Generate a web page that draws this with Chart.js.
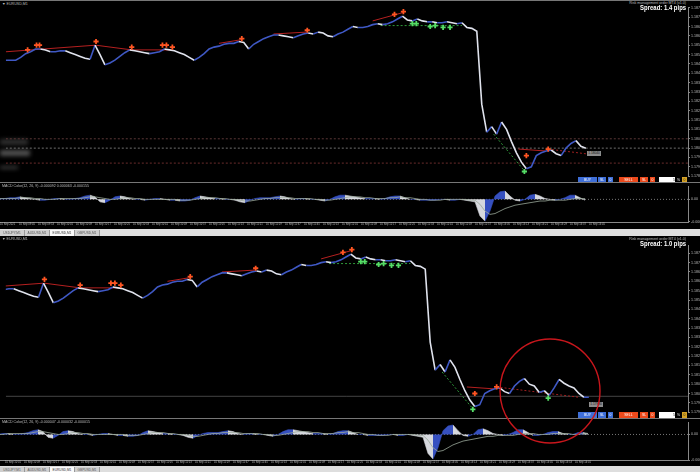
<!DOCTYPE html>
<html>
<head>
<meta charset="utf-8">
<script src="https://cdn.jsdelivr.net/npm/chart.js@4.4.1/dist/chart.umd.min.js"></script>
<style>
html, body { margin: 0; padding: 0; background: #000; width: 700px; height: 472px; overflow: hidden; font-family: "Liberation Sans", "DejaVu Sans", sans-serif; }
canvas, .abs { position: absolute; }
.tiny { color: #bbb; font-size: 3.6px; white-space: nowrap; }
.spread { color: #fff; font-weight: bold; font-size: 7px; white-space: nowrap; transform: scaleX(0.85); transform-origin: right center; }
.sep { left: 0; width: 700px; height: 1px; background: #777; }
.btn { height: 6px; font-size: 3.4px; line-height: 6px; text-align: center; color: #fff; }
.tabs { left: 0; width: 700px; height: 7px; background: #dedede; }
.tab { top: 1px; height: 6px; width: 24px; font-size: 3.2px; line-height: 6px; text-align: center; color: #555; background: #cfcfcf; border-right: 1px solid #999; }
.tab.on { background: #fafafa; color: #333; }
.blur { background: #666; filter: blur(2px); }
.pbox { width: 14px; height: 5px; background: #8c8c8c; color: #111; font-size: 3.2px; line-height: 5px; text-align: center; }
</style>
</head>
<body>
<!-- top snapshot -->
<div class="abs sep" style="top:0"></div>
<div class="abs tiny" style="left:2px;top:2px">▼ EURUSD,M1</div>
<div class="abs tiny" style="right:14px;top:1px">Risk management order MT4 (v1.0)</div>
<div class="abs spread" style="right:14px;top:4px">Spread: 1.4 pips</div>
<div class="abs blur" style="left:0;top:139px;width:28px;height:6px;opacity:.45"></div>
<div class="abs blur" style="left:0;top:150px;width:30px;height:6px;opacity:.8"></div>
<div class="abs blur" style="left:0;top:166px;width:18px;height:3px;opacity:.6"></div>
<canvas id="topPrice" width="700" height="180" style="left:0;top:2px"></canvas>
<div class="abs pbox" style="left:587px;top:151px">1.18040</div>
<div class="abs btn" style="left:578px;top:177px;width:19px;background:#3f6fd8">BUY</div>
<div class="abs btn" style="left:598px;top:177px;width:8px;background:#3f6fd8">SL</div>
<div class="abs btn" style="left:608px;top:177px;width:5px;background:#3f6fd8">0</div>
<div class="abs btn" style="left:619px;top:177px;width:19px;background:#ec4a1c">SELL</div>
<div class="abs btn" style="left:640px;top:177px;width:8px;background:#ec4a1c">SL</div>
<div class="abs btn" style="left:650px;top:177px;width:5px;background:#ec4a1c">0</div>
<div class="abs btn" style="left:659px;top:177px;width:16px;background:#fff;color:#222;text-align:right">5</div>
<div class="abs btn" style="left:676px;top:177px;width:5px">%</div>
<div class="abs btn" style="left:682px;top:177px;width:5px;background:#d6a224;color:#222">0</div>
<div class="abs sep" style="top:182px"></div>
<canvas id="topOsc" width="700" height="45" style="left:0;top:183px"></canvas>
<div class="abs tiny" style="left:2px;top:184px">MACD Color(12, 26, 9) -0.000092 0.000063 -0.000155</div>
<div class="abs tabs" style="top:229px">
  <div class="abs tab" style="left:0">USDJPY,M1</div>
  <div class="abs tab" style="left:25px">AUDUSD,M1</div>
  <div class="abs tab on" style="left:50px">EURUSD,M1</div>
  <div class="abs tab" style="left:75px">GBPUSD,M1</div>
</div>

<!-- bottom snapshot -->
<div class="abs tiny" style="left:2px;top:237px">▼ EURUSD,M1</div>
<div class="abs tiny" style="right:14px;top:237px">Risk management order MT4 (v1.0)</div>
<div class="abs spread" style="right:14px;top:240px">Spread: 1.0 pips</div>
<canvas id="botPrice" width="700" height="178" style="left:0;top:240px"></canvas>
<div class="abs pbox" style="left:589px;top:402px">1.17980</div>
<div class="abs btn" style="left:578px;top:412px;width:19px;background:#3f6fd8">BUY</div>
<div class="abs btn" style="left:598px;top:412px;width:8px;background:#3f6fd8">SL</div>
<div class="abs btn" style="left:608px;top:412px;width:5px;background:#3f6fd8">0</div>
<div class="abs btn" style="left:619px;top:412px;width:19px;background:#ec4a1c">SELL</div>
<div class="abs btn" style="left:640px;top:412px;width:8px;background:#ec4a1c">SL</div>
<div class="abs btn" style="left:650px;top:412px;width:5px;background:#ec4a1c">0</div>
<div class="abs btn" style="left:659px;top:412px;width:16px;background:#fff;color:#222;text-align:right">5</div>
<div class="abs btn" style="left:676px;top:412px;width:5px">%</div>
<div class="abs btn" style="left:682px;top:412px;width:5px;background:#d6a224;color:#222">0</div>
<div class="abs sep" style="top:418px"></div>
<canvas id="botOsc" width="700" height="47" style="left:0;top:419px"></canvas>
<div class="abs tiny" style="left:2px;top:420px">MACD Color(12, 26, 9) -0.000047 -0.000032 -0.000015</div>
<div class="abs tabs" style="top:466px">
  <div class="abs tab" style="left:0">USDJPY,M1</div>
  <div class="abs tab" style="left:25px">AUDUSD,M1</div>
  <div class="abs tab on" style="left:50px">EURUSD,M1</div>
  <div class="abs tab" style="left:75px">GBPUSD,M1</div>
</div>
<svg class="abs" style="left:0;top:0" width="700" height="472">
  <ellipse cx="550" cy="391" rx="50" ry="52" fill="none" stroke="#c8161c" stroke-width="1.4"/>
</svg>

<script>
// closing prices, one value per 5 px of the first snapshot
const closes = [
  1.18510, 1.18510, 1.18510, 1.18525, 1.18545, 1.18555, 1.18570, 1.18570, 1.18565, 1.18555,
  1.18555, 1.18560, 1.18560, 1.18550, 1.18540, 1.18530, 1.18520, 1.18515, 1.18590, 1.18540,
  1.18485, 1.18495, 1.18510, 1.18530, 1.18550, 1.18565, 1.18560, 1.18555, 1.18550, 1.18545,
  1.18550, 1.18555, 1.18570, 1.18565, 1.18560, 1.18550, 1.18540, 1.18525, 1.18510, 1.18525,
  1.18545, 1.18570, 1.18580, 1.18585, 1.18595, 1.18600, 1.18600, 1.18610, 1.18605, 1.18570,
  1.18595, 1.18610, 1.18625, 1.18635, 1.18645, 1.18645, 1.18640, 1.18635, 1.18630, 1.18640,
  1.18650, 1.18655, 1.18650, 1.18660, 1.18655, 1.18640, 1.18635, 1.18650, 1.18660, 1.18675,
  1.18690, 1.18685, 1.18685, 1.18690, 1.18700, 1.18705, 1.18700, 1.18705, 1.18715, 1.18730,
  1.18745, 1.18725, 1.18720, 1.18730, 1.18720, 1.18715, 1.18715, 1.18710, 1.18710, 1.18715,
  1.18710, 1.18705, 1.18710, 1.18685, 1.18680, 1.18665, 1.18275, 1.18125, 1.18155, 1.18115,
  1.18180, 1.18140, 1.18075, 1.18015, 1.17965, 1.17930, 1.17940, 1.18000, 1.18015, 1.18025,
  1.18030, 1.18010, 1.18000, 1.18040, 1.18065, 1.18080, 1.18050, 1.18040, 1.18005, 1.18015,
  1.17990, 1.18030, 1.18075, 1.18055, 1.18040, 1.18030, 1.18000, 1.17980, 1.17980
];
// MACD histogram and signal, in points (1e-5)
const osc = [
  1, 1, 2, 2, 3, 2, 1, 0, -1, -1,
  0, 1, 1, 0, 0, 1, 2, 4, 5, 3,
  -3, -4, -1, 3, 4, 3, 1, 0, 0, -1,
  0, 1, 1, 0, -1, -1, -2, -2, -1, 2,
  4, 3, 2, 1, 1, 0, 0, -1, -3, -4,
  -1, 1, 2, 2, 2, 3, 4, 3, 1, 0,
  1, 1, 0, 0, -1, -2, 0, 3, 5, 5,
  4, 3, 2, 1, 1, 1, 0, 1, 3, 4,
  4, 2, 0, 0, -1, -1, -1, -1, 0, 0,
  -1, -1, 0, -1, -2, -3, -20, -26, -14, 4,
  9, 10, 4, -1, -2, 0, 5, 6, 4, 1,
  0, -1, 0, 2, 5, 5, 2, -1, -1, 0,
  2, 3, 3, 1, 0, 0, 2, 2, 1
];
const signal = [
  1, 1, 1, 1, 2, 2, 2, 1, 1, 0,
  0, 0, 1, 1, 1, 1, 1, 2, 3, 3,
  2, 1, 0, 0, 1, 2, 2, 1, 1, 0,
  0, 0, 0, 0, 0, 0, -1, -1, -1, 0,
  1, 2, 2, 2, 1, 1, 0, 0, -1, -2,
  -2, -1, 0, 1, 1, 2, 2, 2, 2, 1,
  1, 1, 1, 0, 0, -1, -1, 0, 1, 2,
  3, 3, 3, 2, 2, 1, 1, 1, 2, 2,
  3, 2, 2, 1, 0, 0, -1, -1, -1, 0,
  0, 0, 0, 0, -1, -1, -6, -14, -18, -17,
  -14, -11, -9, -7, -6, -5, -4, -3, -2, -2,
  -1, -1, -1, -1, 0, 1, 1, 1, 0, 0,
  0, 1, 1, 1, 1, 0, 0, 1, 1
];
const topBars = 118; // bars available when the first snapshot was taken

const sellX = [4.4, 6.2, 6.8, 18.2, 25.4, 31.6, 32.4, 33.6, 47.6, 60.8, 78.4, 80.2, 105, 109.4];
const sellY = [1.18565, 1.18590, 1.18590, 1.18610, 1.18580, 1.18590, 1.18590, 1.18580, 1.18625, 1.18670, 1.18755, 1.18770, 1.18000, 1.18035];
const buyX = [82, 82.8, 85.6, 86.6, 88.2, 89.6, 104.6, 119.8];
const buyY = [1.18705, 1.18705, 1.18690, 1.18695, 1.18685, 1.18685, 1.17915, 1.17975];

const redTrends = [
  [[0, 1.18555], [18, 1.18590]],
  [[18.2, 1.18590], [25.4, 1.18565], [33.6, 1.18565]],
  [[43, 1.18600], [47.6, 1.18620]],
  [[54, 1.18650], [60.6, 1.18660]],
  [[74, 1.18720], [78.4, 1.18752], [80.2, 1.18765]],
  [[103.4, 1.18035], [108.8, 1.18025]]
];
const redDotted = [[[109.4, 1.18035], [126, 1.17980]]];
const greenDotted = [
  [[75.6, 1.18695], [92, 1.18695]],
  [[98.4, 1.18115], [104.4, 1.17925]]
];
const topLevels = [1.18090, 1.18040, 1.17960];
const botLevels = [1.17985];

const timeLabels = [
  '10 Sep 2021', '10 Sep 09:45', '10 Sep 09:53', '10 Sep 10:01', '10 Sep 10:09', '10 Sep 10:17',
  '10 Sep 10:25', '10 Sep 10:33', '10 Sep 10:41', '10 Sep 10:49', '10 Sep 10:57', '10 Sep 11:05',
  '10 Sep 11:13', '10 Sep 11:21', '10 Sep 11:29', '10 Sep 11:37', '10 Sep 11:45', '10 Sep 11:53',
  '10 Sep 12:01', '10 Sep 12:09', '10 Sep 12:17', '10 Sep 12:25', '10 Sep 12:33', '10 Sep 12:41',
  '10 Sep 12:49', '10 Sep 12:57', '10 Sep 13:05', '10 Sep 13:13', '10 Sep 13:21', '10 Sep 13:29',
  '10 Sep 13:37', '10 Sep 13:45', '10 Sep 13:53', '10 Sep 14:01', '10 Sep 14:09', '10 Sep 14:17',
  '10 Sep 14:25', '10 Sep 14:33', '10 Sep 14:41', '10 Sep 14:49'
];
const labelStep = 3.8;

const UP = '#3f58c4', DOWN = '#dfe2ec';
const HIST_UP = '#3650c0', HIST_DN = '#d6d8de';
const tinyFont = { family: 'Liberation Sans', size: 3.6 };

function clip(seg, last) {
  const out = [];
  for (let k = 0; k < seg.length; k++) {
    const [x, y] = seg[k];
    if (x <= last) { out.push({ x, y }); continue; }
    if (k > 0) {
      const [x0, y0] = seg[k - 1];
      out.push({ x: last, y: y0 + (y - y0) * (last - x0) / (x - x0) });
    }
    break;
  }
  return out;
}

function rightAxis(min, max, extra) {
  return Object.assign({
    position: 'right', min, max,
    afterFit: s => { s.width = 12; },
    grid: { display: true, drawOnChartArea: false, tickLength: 2, color: '#888' },
    border: { display: true, color: '#888' },
    ticks: { color: '#bbb', font: tinyFont, padding: 1 }
  }, extra);
}

function priceChart(id, n, xmin, xmax, ymin, ymax, levels) {
  const last = n - 1;
  const lineSets = (segs, color, dash) => segs.map(s => clip(s, last)).filter(d => d.length > 1).map(d => ({
    type: 'line', data: d, borderColor: color, borderWidth: 1, borderDash: dash, pointRadius: 0, order: 3
  }));
  const marks = (xs, ys) => xs.map((x, i) => ({ x, y: ys[i] })).filter(p => p.x <= last);
  new Chart(document.getElementById(id), {
    type: 'line',
    data: {
      datasets: [
        { type: 'scatter', data: marks(sellX, sellY), pointStyle: 'cross', pointRadius: 2.6, pointBorderWidth: 1.8,
          borderColor: '#ff5522', backgroundColor: '#ff5522', order: 0 },
        { type: 'scatter', data: marks(buyX, buyY), pointStyle: 'cross', pointRadius: 2.6, pointBorderWidth: 1.8,
          borderColor: '#55dd66', backgroundColor: '#55dd66', order: 0 },
        { data: closes.slice(0, n).map((y, x) => ({ x, y })), borderWidth: 1.6, pointRadius: 0, order: 1,
          borderColor: UP, borderJoinStyle: 'miter',
          segment: { borderColor: c => c.p1.parsed.y >= c.p0.parsed.y ? UP : DOWN } },
        ...lineSets(redTrends, '#b52020', []),
        ...lineSets(redDotted, '#a02020', [2, 2]),
        ...lineSets(greenDotted, '#2f9a3a', [2, 2]),
        ...levels.map((y, i) => ({
          data: [{ x: xmin, y }, { x: xmax, y }], pointRadius: 0, borderWidth: 1, order: 4,
          borderColor: levels.length === 1 ? '#444' : ['#5a3636', '#6e6e6e', '#6a2c2c'][i],
          borderDash: levels.length === 1 ? [] : [2, 2]
        }))
      ]
    },
    options: {
      responsive: false, animation: false,
      layout: { padding: 0 },
      plugins: { legend: { display: false }, tooltip: { enabled: false } },
      scales: {
        x: { type: 'linear', display: false, min: xmin, max: xmax },
        y: rightAxis(ymin, ymax, {
          ticks: { color: '#bbb', font: tinyFont, padding: 1, stepSize: 0.0005, includeBounds: false,
                   callback: v => v.toFixed(5) }
        })
      }
    }
  });
}

function oscChart(id, n, xmin, xmax, ymin, ymax) {
  const last = n - 1;
  const vals = osc.slice(0, n);
  const histColor = c => c.p1.parsed.y >= c.p0.parsed.y ? HIST_UP : HIST_DN;
  new Chart(document.getElementById(id), {
    type: 'line',
    data: {
      datasets: [
        { data: signal.slice(0, n).map((y, x) => ({ x, y })), borderColor: '#9aa89a',
          borderWidth: 0.8, pointRadius: 0, order: 0 },
        { data: vals.map((y, x) => ({ x, y })), order: 1, fill: 'origin',
          borderWidth: 0.6, pointRadius: 0, borderColor: HIST_UP, backgroundColor: HIST_UP,
          segment: { borderColor: histColor, backgroundColor: histColor } },
        { data: [{ x: xmin, y: 0 }, { x: xmax, y: 0 }], borderColor: '#777',
          borderWidth: 1, borderDash: [1, 2], pointRadius: 0, order: 2 }
      ]
    },
    options: {
      responsive: false, animation: false,
      layout: { padding: 0 },
      plugins: { legend: { display: false }, tooltip: { enabled: false } },
      scales: {
        x: {
          type: 'linear', min: xmin, max: xmax,
          afterFit: s => { s.height = 6; },
          afterBuildTicks: s => {
            s.ticks = timeLabels.map((_, k) => ({ value: k * labelStep }))
              .filter(t => t.value >= xmin && t.value <= last + 1);
          },
          grid: { display: true, drawOnChartArea: false, tickLength: 1, color: '#888' },
          border: { display: true, color: '#888' },
          ticks: { color: '#bbb', font: { family: 'Liberation Sans', size: 2.7 }, padding: 0,
                   maxRotation: 0, autoSkip: false, align: 'start',
                   callback: v => timeLabels[Math.round(v / labelStep)] }
        },
        y: rightAxis(ymin, ymax, {
          afterBuildTicks: s => { s.ticks = [{ value: 0 }, { value: Math.ceil(ymin) }]; },
          ticks: { color: '#bbb', font: tinyFont, padding: 1,
                   callback: v => v === 0 ? '0.00' : (v / 100000).toFixed(5) }
        })
      }
    }
  });
}

priceChart('topPrice', topBars, 0, 137.6, 1.17890, 1.18790, topLevels);
oscChart('topOsc', topBars, 0, 137.6, -27.1, 15.8);
priceChart('botPrice', closes.length, 10.4, 148, 1.17900, 1.18790, botLevels);
oscChart('botOsc', closes.length, 10.4, 148, -27, 13);
</script>
</body>
</html>
